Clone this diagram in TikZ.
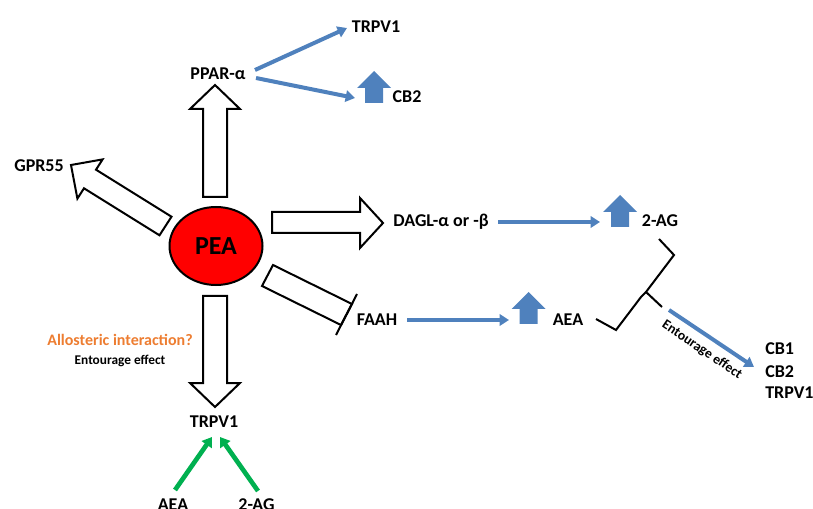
\documentclass[tikz,border=0pt]{standalone}
\usepackage{fontspec}
\setmainfont{Carlito}
\usetikzlibrary{arrows.meta,shapes.geometric}
\definecolor{pblue}{HTML}{4F81BD}
\definecolor{pgreen}{HTML}{00B050}
\definecolor{porange}{HTML}{ED7D31}
\definecolor{pred}{HTML}{FF0000}
\begin{document}
\begin{tikzpicture}[x=0.75pt,y=-0.75pt,
  lbl/.style={font=\fontsize{13.5}{16}\selectfont\bfseries, inner sep=0pt},
  small/.style={font=\fontsize{10}{12}\selectfont\bfseries, inner sep=0pt},
  blk/.style={draw=black, line width=1.5pt, fill=white, line join=miter},
  bluearr/.style={draw=pblue, line width=3pt, -{Triangle[length=7pt,width=8.5pt]}},
  greenarr/.style={draw=pgreen, line width=3.5pt, -{Triangle[length=7pt,width=9pt]}},
  brace/.style={draw=black, line width=1.5pt, line join=miter},
  upblock/.pic={\fill[pblue] (-17,17)--(0,0)--(17,17)--(9,17)--(9,32)--(-9,32)--(-9,17)--cycle;}]
\useasboundingbox (0,0) rectangle (813,509);

% PEA
\node[ellipse, draw=black, fill=pred, line width=1.5pt, minimum width=69.75pt, minimum height=58.5pt, inner sep=0pt,
  font=\fontsize{19.5}{22}\selectfont\bfseries] (pea) at (216,246) {PEA};

% block arrows
\draw[blk] (203,197) -- (203,109) -- (190,109) -- (215,85) -- (240,109) -- (227,109) -- (227,197) -- cycle;
\draw[blk] (171.5,216.7) -- (96,169.7) -- (102.6,159.4) -- (71,165) -- (77.4,198.6) -- (84,188.3) -- (159.5,235.3) -- cycle;
\draw[blk] (272,212) -- (360,212) -- (360,198) -- (383,223) -- (360,248) -- (360,233) -- (272,233) -- cycle;
\draw[blk] (203,296) -- (227,296) -- (227,383) -- (240,383) -- (215,407) -- (190,383) -- (203,383) -- cycle;
% inhibition bar
\draw[blk] (262,286) -- (273,265) -- (352,304) -- (341,325) -- cycle;
\draw[brace] (357,294) -- (336,335);

% labels
\node[lbl] (ppar) at (218,74) {PPAR-α};
\node[lbl] (trpvtop) at (376,27) {TRPV1};
\node[lbl] (cbtop) at (407,97) {CB2};
\node[lbl] (gpr) at (39,165.5) {GPR55};
\node[lbl] (dagl) at (441,222) {DAGL-α or -β};
\node[lbl] (twoag) at (660,221) {2-AG};
\node[lbl] (faah) at (377,320) {FAAH};
\node[lbl] (aea) at (568,320) {AEA};
\node[lbl] (trpvbot) at (214,422) {TRPV1};
\node[lbl] (aeabot) at (173,505) {AEA};
\node[lbl] (twoagbot) at (256.5,505) {2-AG};
\node[lbl, anchor=west] (cb1r) at (765,348.5) {CB1};
\node[lbl, anchor=west] (cb2r) at (765,372) {CB2};
\node[lbl, anchor=west] (trpvr) at (765,393) {TRPV1};
\node[font=\fontsize{12}{14}\selectfont\bfseries, text=porange, inner sep=0pt] (allo) at (120,340) {Allosteric interaction?};
\node[small] (ent1) at (120,361) {Entourage effect};
\node[font=\fontsize{10.3}{12}\selectfont\bfseries, inner sep=0pt, rotate=-34] (ent2) at (702,350) {Entourage effect};

% blue up block arrows
\pic (upcb) at (374,71) {upblock};
\pic (up2ag) at (620,195) {upblock};
\pic (upaea) at (528.5,292) {upblock};

% blue connectors
\coordinate (p1) at (255,70);
\coordinate (t1) at (347,28);
\coordinate (p2) at (256,78);
\coordinate (c2) at (355,98);
\draw[bluearr] (p1) -- (t1);
\draw[bluearr] (p2) -- (c2);
\coordinate (d1) at (498,222);
\coordinate (d2) at (600,222);
\draw[bluearr] (d1) -- (d2);
\coordinate (f1) at (407,320);
\coordinate (f2) at (509,320);
\draw[bluearr] (f1) -- (f2);
\coordinate (e1) at (669,310);
\coordinate (e2) at (754,367);
\draw[bluearr] (e1) -- (e2);

% brace
\draw[brace] (659,239) -- (674,255) -- (646,292) -- (662,307);
\draw[brace] (646,292) -- (641,297) -- (616,330) -- (596,319);

% green connectors
\coordinate (g1) at (175,490);
\coordinate (g2) at (212,437);
\coordinate (g3) at (258,491);
\coordinate (g4) at (220,437);
\draw[greenarr] (g1) -- (g2);
\draw[greenarr] (g3) -- (g4);
\end{tikzpicture}
\end{document}
